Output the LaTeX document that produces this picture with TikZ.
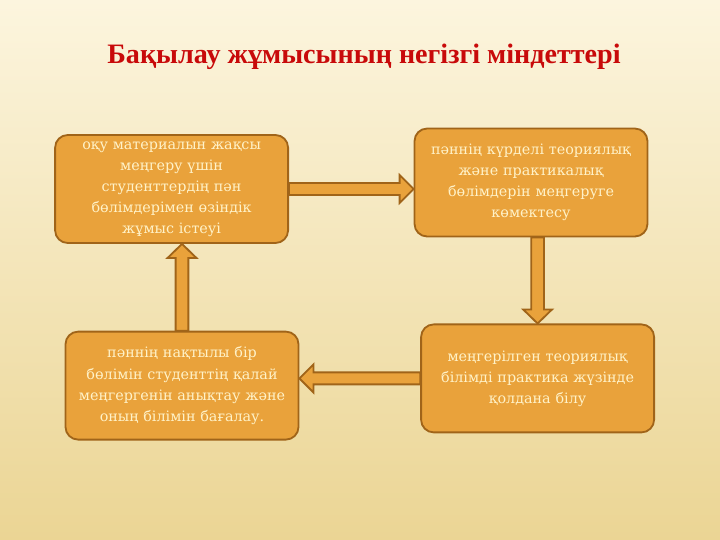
\documentclass[tikz,border=0pt]{standalone}
\usepackage{fontspec}
\setmainfont{DejaVu Serif}
\newfontfamily\titlefont{Liberation Serif}
\usepackage{xcolor}
\usetikzlibrary{arrows.meta, positioning}

\definecolor{boxfill}{RGB}{233,162,59}
\definecolor{boxline}{RGB}{160,100,25}
\definecolor{boxtext}{RGB}{255,242,200}
\definecolor{titlered}{RGB}{200,10,10}
\definecolor{bgtop}{RGB}{252,245,222}
\definecolor{bgbottom}{RGB}{235,213,148}

% horizontal block arrow: tail, tip, direction (1 right, -1 left)
\newcommand{\hblock}[3]{%
  \draw[blockarr] ([yshift=0.15cm]#1) -- ([xshift={-(#3)*0.35cm},yshift=0.15cm]#2)
    -- ([xshift={-(#3)*0.35cm},yshift=0.35cm]#2) -- (#2)
    -- ([xshift={-(#3)*0.35cm},yshift=-0.35cm]#2) -- ([xshift={-(#3)*0.35cm},yshift=-0.15cm]#2)
    -- ([yshift=-0.15cm]#1) -- cycle;}
% vertical block arrow: tail, tip, direction (1 up, -1 down)
\newcommand{\vblock}[3]{%
  \draw[blockarr] ([xshift=0.16cm]#1) -- ([yshift={-(#3)*0.35cm},xshift=0.16cm]#2)
    -- ([yshift={-(#3)*0.35cm},xshift=0.36cm]#2) -- (#2)
    -- ([yshift={-(#3)*0.35cm},xshift=-0.36cm]#2) -- ([yshift={-(#3)*0.35cm},xshift=-0.16cm]#2)
    -- ([xshift=-0.16cm]#1) -- cycle;}

\begin{document}
\begin{tikzpicture}[
        box/.style={draw=boxline, line width=1.3pt, fill=boxfill, rounded corners=9pt, align=center,
          text=boxtext, minimum width=5.825cm, minimum height=2.7cm, text width=5.7cm, inner sep=1pt,
          font=\fontsize{10.2}{15}\selectfont},
        blockarr/.style={draw=boxline, line width=1.3pt, fill=boxfill, line join=miter}
      ]
        \fill[top color=bgtop, bottom color=bgbottom] (0,0) rectangle (18,-13.5);
        \node[font=\titlefont\bfseries\fontsize{20}{24}\selectfont, text=titlered] (title) at (9.1,-1.42)
          {Бақылау жұмысының негізгі міндеттері};

        \node[box] (self)  at (4.29,-4.725) {оқу материалын жақсы\\меңгеру үшін\\студенттердің пән\\бөлімдерімен өзіндік\\жұмыс істеуі};
        \node[box] (help)  at (13.275,-4.5625) {пәннің күрделі теориялық\\және практикалық\\бөлімдерін меңгеруге\\көмектесу};
        \node[box] (apply) at (13.44,-9.46) {меңгерілген теориялық\\білімді практика жүзінде\\қолдана білу};
        \node[box] (check) at (4.55,-9.64) {пәннің нақтылы бір\\бөлімін студенттің қалай\\меңгергенін анықтау және\\оның білімін бағалау.};

        \coordinate (self-help)   at (self.east -| help.west);
        \coordinate (help-apply)  at (apply.north |- help.south);
        \coordinate (apply-check) at (apply.west -| check.east);
        \coordinate (check-self)  at (check.north |- self.south);

        \hblock{self.east}{self-help}{1}
        \vblock{help-apply}{apply.north}{-1}
        \hblock{apply.west}{apply-check}{-1}
        \vblock{check.north}{check-self}{1}
      \end{tikzpicture}
\end{document}
